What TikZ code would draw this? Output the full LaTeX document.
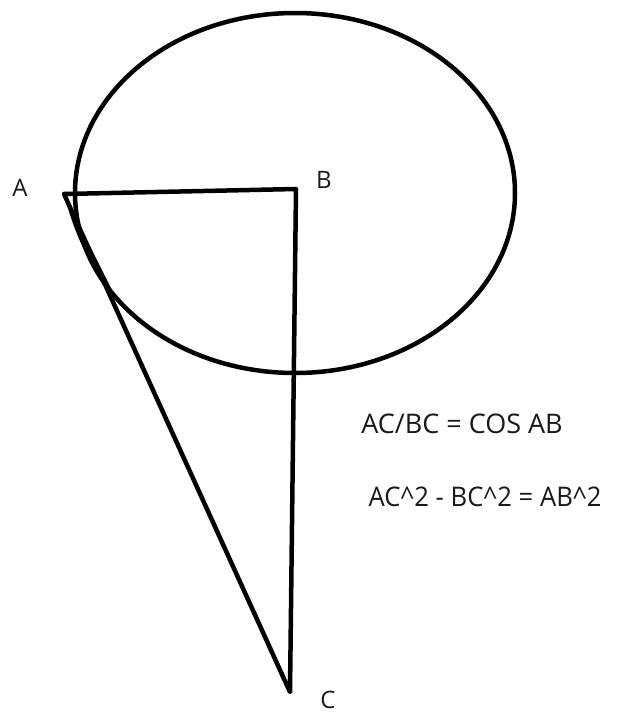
\documentclass[tikz,border=0pt]{standalone}
\usepackage{fontspec}
\setmainfont{Open Sans}
\usepackage{tikz}
\usetikzlibrary{positioning,calc,shapes.geometric}

\begin{document}
\begin{tikzpicture}[x=1pt,y=-1pt,
      stroke/.style={line width=4.5pt,line cap=round,line join=round,black},
      pt/.style={font=\fontsize{24}{28}\selectfont,text=black!90,inner sep=0pt},
      eqn/.style={font=\fontsize{27}{32}\selectfont,text=black!90,inner sep=0pt}]
    \useasboundingbox (0,0) rectangle (628,713);
    % circle around B
    \node[draw,stroke,ellipse,minimum width=440pt,minimum height=360pt,inner sep=0pt] (circ) at (295,193) {};
    % triangle corners
    \coordinate (A) at (64,194);
    \coordinate (B) at (296,189);
    \coordinate (C) at (290,692);
    \coordinate (D) at (117,300);
    \draw[stroke] (A) -- (B) -- (C) -- (A);
    \fill (A) .. controls (76,240) and (92,270) .. (D) -- cycle;
    % labels
    \node[pt] (la) at (20,188) {A};
    \node[pt] (lb) at (324,180) {B};
    \node[pt] (lc) at (328,700) {C};
    \node[eqn] (eq1) at (462,424) {AC/BC = COS AB};
    \node[eqn,xscale=0.95] (eq2) at (485,497) {AC\^{}2 - BC\^{}2 = AB\^{}2};
  \end{tikzpicture}
\end{document}
